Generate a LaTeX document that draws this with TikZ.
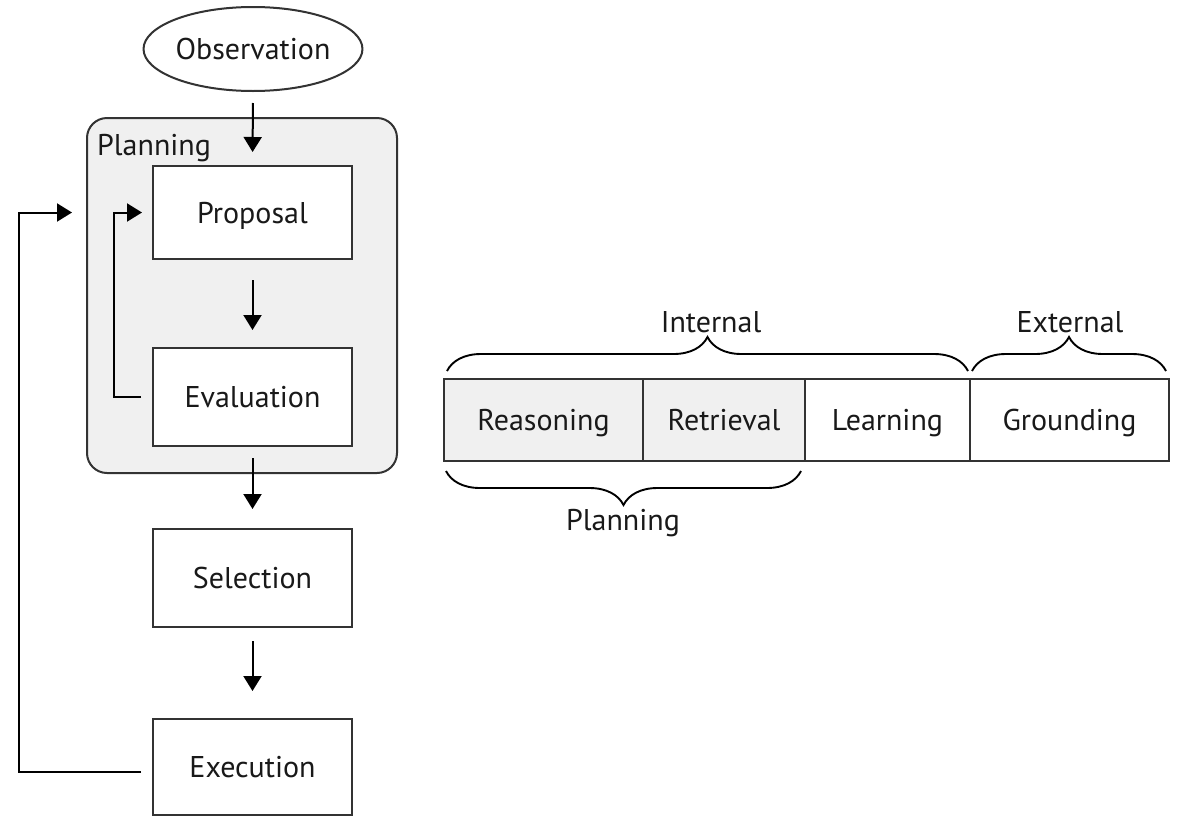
\documentclass[tikz,border=0pt]{standalone}
\usepackage{fontspec}
\setmainfont{PT Sans}
\usetikzlibrary{shapes.geometric,arrows.meta,decorations.pathreplacing}
\definecolor{boxline}{HTML}{333333}
\definecolor{panel}{HTML}{F0F0F0}
\begin{document}
\begin{tikzpicture}[x=1pt,y=-1pt,
  font=\fontsize{30}{33}\selectfont,
  every node/.style={inner sep=0pt, text=black!90, text height=21pt, text depth=0pt},
  stagebox/.style={draw=boxline, line width=2pt, fill=white, minimum width=199pt},
  cell/.style={draw=boxline, line width=2pt, minimum height=82pt},
  flow/.style={line width=2pt, -{Triangle[length=15pt,width=18pt]}},
  bracket/.style={line width=1.9pt, decorate, decoration={brace, amplitude=34pt}}]
\useasboundingbox (0,0) rectangle (1180,817);

% planning loop on the left
\node[draw=boxline, line width=2pt, fill=panel, rounded corners=20pt,
      minimum width=310pt, minimum height=355pt] (planbox) at (242,295.5) {};
\node[anchor=west] (planlabel) at (97,145) {Planning};

\node[draw=boxline, line width=2pt, ellipse, fill=white,
      minimum width=210pt, minimum height=84pt] (obs) at (253,49) {Observation};
\node[stagebox, minimum height=93pt] (prop) at (252.5,212.5) {Proposal};
\node[stagebox, minimum height=98pt] (eval) at (252.5,397) {Evaluation};
\node[stagebox, minimum height=98pt] (sel) at (252.5,578) {Selection};
\node[stagebox, minimum height=96pt] (exec) at (252.5,767) {Execution};

\draw[flow, shorten <=11pt, shorten >=13pt] (obs.south) -- (prop.north);
\draw[flow, shorten <=20pt, shorten >=17pt] (prop.south) -- (eval.north);
\draw[flow, shorten <=11pt, shorten >=19pt] (eval.south) -- (sel.north);
\draw[flow, shorten <=13pt, shorten >=27pt] (sel.south) -- (exec.north);

% inner feedback: evaluation back to proposal
\coordinate (evalout) at ([xshift=-11pt]eval.west);
\coordinate (propin) at ([xshift=-10pt]prop.west);
\draw[flow] (evalout) -| ([xshift=-38pt]prop.west) -- (propin);

% outer feedback: execution back into planning
\coordinate (execout) at ([xshift=-11pt, yshift=-5pt]exec.west);
\coordinate (planin) at ([xshift=-14pt]planbox.west |- prop.west);
\draw[flow] (execout) -| ([xshift=-133pt]prop.west) -- (planin);

% module bar on the right
\node[cell, fill=panel, minimum width=199pt] (reas) at (543.5,420) {Reasoning};
\node[cell, fill=panel, minimum width=162pt] (retr) at (724,420) {Retrieval};
\node[cell, fill=white, minimum width=165pt] (lear) at (887.5,420) {Learning};
\node[cell, fill=white, minimum width=199pt] (grnd) at (1069.5,420) {Grounding};

\draw[bracket] ([xshift=4pt, yshift=7pt]reas.north west) -- ([xshift=-3pt, yshift=7pt]lear.north east);
\draw[bracket] ([xshift=3pt, yshift=7pt]grnd.north west) -- ([xshift=-4pt, yshift=7pt]grnd.north east);
\draw[bracket] ([xshift=-5pt, yshift=-9pt]retr.south east) -- ([xshift=3pt, yshift=-9pt]reas.south west);

\node (intl) at (711,322) {Internal};
\node (extl) at (1070,322) {External};
\node (plnl) at (623,520) {Planning};
\end{tikzpicture}
\end{document}
